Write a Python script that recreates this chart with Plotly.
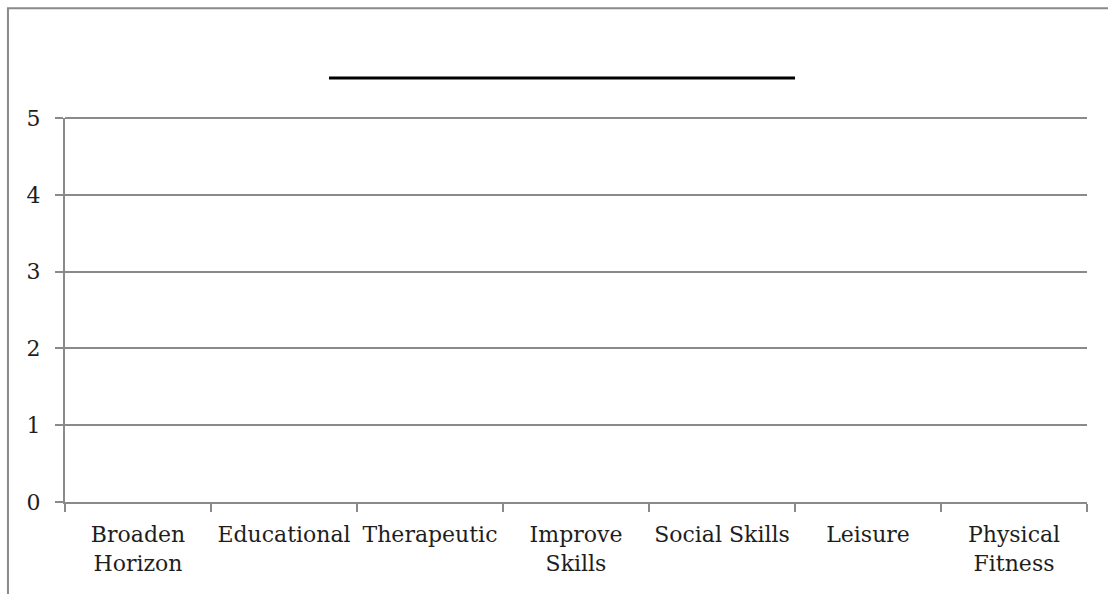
import plotly.graph_objects as go

# Activity categories along the x axis
categories = ["Broaden<br>Horizon", "Educational", "Therapeutic", "Improve<br>Skills",
              "Social Skills", "Leisure", "Physical<br>Fitness"]
# Series values (no responses recorded)
values = [None, None, None, None, None, None, None]
# Y axis ticks
y_ticks = [0, 1, 2, 3, 4, 5]

GRID = "#8a8a8a"
FONT = "DejaVu Serif"
TEXT = "#1e1e1e"

fig = go.Figure()
fig.add_trace(go.Scatter(x=categories, y=values, mode="lines",
                         line=dict(color="black", width=3), showlegend=False))

fig.update_layout(
    width=1108, height=594,
    margin=dict(l=65, r=21, t=118, b=92),
    paper_bgcolor="white", plot_bgcolor="white",
    font=dict(family=FONT, size=22, color=TEXT),
    showlegend=False,
)

fig.update_xaxes(
    type="category", categoryorder="array", categoryarray=categories,
    range=[-0.5, len(categories) - 0.5],
    showgrid=False, zeroline=False,
    showline=True, linecolor=GRID, linewidth=2,
    ticks="outside", tickson="boundaries", ticklen=8, tickwidth=2, tickcolor=GRID,
    tickfont=dict(family=FONT, size=22, color=TEXT),
    ticklabelstandoff=12,
)
fig.update_yaxes(
    range=[0, max(y_ticks)], tickvals=y_ticks,
    showgrid=True, gridcolor=GRID, gridwidth=2,
    zeroline=False,
    showline=True, linecolor=GRID, linewidth=2,
    ticks="outside", ticklen=8, tickwidth=2, tickcolor=GRID,
    tickfont=dict(family=FONT, size=22, color=TEXT),
    ticklabelstandoff=10,
)

# Gridline along the top of the value range (the top edge of the plot area,
# where Plotly leaves out the regular gridline)
fig.add_shape(type="line", xref="paper", yref="paper",
              x0=0, x1=1, y0=1, y1=1,
              line=dict(color=GRID, width=2))

# Chart frame
fig.add_shape(type="rect", xref="paper", yref="paper",
              x0=-0.0558, x1=1.2, y0=-0.6, y1=1.286,
              line=dict(color=GRID, width=2), fillcolor="rgba(0,0,0,0)", layer="below")
# Legend line above the plot
fig.add_shape(type="line", xref="paper", yref="paper",
              x0=0.2583, x1=0.7143, y0=1.104, y1=1.104,
              line=dict(color="black", width=3))

fig.write_html("out.html")
